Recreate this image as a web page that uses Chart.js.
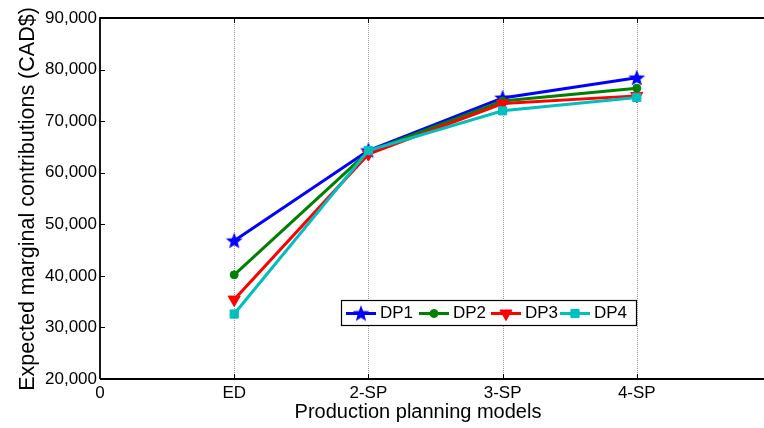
<!DOCTYPE html>
<html><head><meta charset="utf-8">
<script src="https://cdn.jsdelivr.net/npm/chart.js@4/dist/chart.umd.min.js"></script>
<style>
html,body{margin:0;padding:0;overflow:hidden;background:#fff;width:764px;height:428px}
#wrap{width:780px;height:428px}
canvas{display:block}
</style></head>
<body><div id="wrap"><canvas id="c" width="780" height="428"></canvas></div>
<script>
// ---- data ----
const categories = ['ED', '2-SP', '3-SP', '4-SP'];
const xTickLabels = ['0', 'ED', '2-SP', '3-SP', '4-SP', ''];
const seriesNames = ['DP1', 'DP2', 'DP3', 'DP4'];
const dp1 = [46800, 64300, 74500, 78400];
const dp2 = [40200, 64100, 73900, 76400];
const dp3 = [35400, 63600, 73400, 74900];
const dp4 = [32600, 64300, 72000, 74600];
const yTickValues = [20000, 30000, 40000, 50000, 60000, 70000, 80000, 90000];
const xTitle = 'Production planning models';
const yTitle = 'Expected marginal contributions (CAD$)';

const FONT = '"Liberation Sans", Arial, Helvetica, sans-serif';

function makeStar(color) {
  const s = 18, c = document.createElement('canvas');
  c.width = s; c.height = s;
  const g = c.getContext('2d');
  g.fillStyle = color;
  g.beginPath();
  const R = 8.8, r = 3.7, cx = s / 2, cy = s / 2 + 0.5;
  for (let i = 0; i < 10; i++) {
    const ang = -Math.PI / 2 + i * Math.PI / 5;
    const rad = i % 2 === 0 ? R : r;
    const px = cx + rad * Math.cos(ang), py = cy + rad * Math.sin(ang);
    i === 0 ? g.moveTo(px, py) : g.lineTo(px, py);
  }
  g.closePath(); g.fill();
  return c;
}

const colors = ['#0000FF', '#008000', '#FF0000', '#00BFBF'];
const starImg = makeStar(colors[0]);
const markers = [
  { pointStyle: starImg, radius: 8, rotation: 0 },
  { pointStyle: 'circle', radius: 4, rotation: 0 },
  { pointStyle: 'triangle', radius: 7, rotation: 180 },
  { pointStyle: 'rect', radius: 5.8, rotation: 0 }
];
const allSeries = [dp1, dp2, dp3, dp4];

const datasets = allSeries.map((vals, i) => ({
  label: seriesNames[i],
  data: categories.map((c, j) => ({ x: j + 1, y: vals[j] })),
  borderColor: colors[i],
  backgroundColor: colors[i],
  borderWidth: 3,
  pointStyle: markers[i].pointStyle,
  pointRadius: markers[i].radius,
  pointRotation: markers[i].rotation,
  pointBorderWidth: 1,
  pointBorderColor: colors[i],
  pointBackgroundColor: colors[i],
  tension: 0,
  order: 3 - i
}));

function fmt(v) { return String(v).replace(/\B(?=(\d{3})+(?!\d))/g, ','); }

const framePlugin = {
  id: 'frame',
  beforeDatasetsDraw(chart) {
    const { ctx, chartArea: a, scales: { x } } = chart;
    ctx.save();
    ctx.strokeStyle = '#9a9a9a';
    ctx.lineWidth = 1;
    ctx.setLineDash([1, 1]);
    for (let v = 1; v <= 4; v++) {
      const px = Math.round(x.getPixelForValue(v)) + 0.5;
      ctx.beginPath(); ctx.moveTo(px, a.top); ctx.lineTo(px, a.bottom); ctx.stroke();
    }
    ctx.restore();
  },
  afterDraw(chart) {
    const { ctx, chartArea: a, scales: { x, y } } = chart;
    ctx.save();
    ctx.strokeStyle = '#000';
    ctx.lineWidth = 1.8;
    ctx.beginPath();
    ctx.moveTo(a.left, a.bottom); ctx.lineTo(a.left, a.top); ctx.lineTo(a.right, a.top);
    ctx.moveTo(a.left, a.bottom); ctx.lineTo(a.right, a.bottom);
    ctx.stroke();
    // inward ticks
    ctx.lineWidth = 1;
    ctx.beginPath();
    for (let v = 1; v <= 4; v++) {
      const px = Math.round(x.getPixelForValue(v)) + 0.5;
      ctx.moveTo(px, a.bottom); ctx.lineTo(px, a.bottom - 5);
      ctx.moveTo(px, a.top); ctx.lineTo(px, a.top + 5);
    }
    yTickValues.forEach(v => {
      const py = Math.round(y.getPixelForValue(v)) + 0.5;
      ctx.moveTo(a.left, py); ctx.lineTo(a.left + 5, py);
    });
    ctx.stroke();

    // legend
    const bx = 341, by = 300, bw = 295, bh = 25;
    ctx.fillStyle = '#fff';
    ctx.fillRect(bx, by, bw, bh);
    ctx.strokeStyle = '#000';
    ctx.lineWidth = 1.2;
    ctx.strokeRect(bx + 0.5, by + 0.5, bw, bh);
    const cy = by + bh / 2 + 1;
    const lineStarts = [346, 419, 491, 560];
    ctx.font = '17px ' + FONT;
    ctx.textBaseline = 'middle';
    ctx.textAlign = 'left';
    seriesNames.forEach((name, i) => {
      const x0 = lineStarts[i], x1 = x0 + 30;
      ctx.strokeStyle = colors[i];
      ctx.lineWidth = 3;
      ctx.beginPath(); ctx.moveTo(x0, cy); ctx.lineTo(x1, cy); ctx.stroke();
      ctx.fillStyle = colors[i];
      ctx.lineWidth = 1;
      Chart.helpers.drawPoint(ctx, {
        pointStyle: markers[i].pointStyle,
        radius: markers[i].radius,
        rotation: markers[i].rotation,
        borderWidth: 1
      }, (x0 + x1) / 2, cy);
      ctx.fillStyle = '#000';
      ctx.fillText(name, x1 + 4, cy);
    });

    // axis titles
    ctx.fillStyle = '#000';
    ctx.font = '20px ' + FONT;
    ctx.textAlign = 'center';
    ctx.textBaseline = 'middle';
    ctx.fillText(xTitle, 418, 412);
    ctx.save();
    ctx.font = '21.5px ' + FONT;
    ctx.translate(28, 199);
    ctx.rotate(-Math.PI / 2);
    ctx.fillText(yTitle, 0, 0);
    ctx.restore();
    ctx.restore();
  }
};

new Chart(document.getElementById('c'), {
  type: 'line',
  data: { datasets },
  plugins: [framePlugin],
  options: {
    responsive: false,
    devicePixelRatio: 1,
    animation: false,
    layout: { padding: { left: 0, top: 18, right: 5, bottom: 0 } },
    plugins: { legend: { display: false }, tooltip: { enabled: false } },
    scales: {
      x: {
        type: 'linear', min: 0, max: 5,
        grid: { display: false, drawTicks: false },
        border: { display: false },
        afterFit(s) { s.height = 49; },
        afterBuildTicks(s) { s.ticks = xTickLabels.map((l, i) => ({ value: i })); },
        ticks: {
          padding: 4, color: '#000', font: { size: 17, family: FONT },
          maxRotation: 0, autoSkip: false,
          callback: (v) => xTickLabels[v] !== undefined ? xTickLabels[v] : ''
        }
      },
      y: {
        type: 'linear', min: 20000, max: 90000,
        grid: { display: false, drawTicks: false },
        border: { display: false },
        afterFit(s) { s.width = 100; },
        afterBuildTicks(s) { s.ticks = yTickValues.map(v => ({ value: v })); },
        ticks: {
          padding: 3, color: '#000', font: { size: 17, family: FONT },
          callback: (v) => fmt(v)
        }
      }
    }
  }
});
</script>
</body></html>
